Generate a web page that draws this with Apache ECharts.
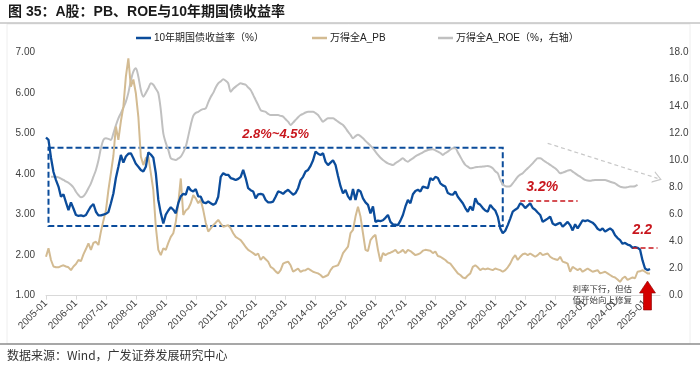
<!DOCTYPE html>
<html><head><meta charset="utf-8">
<script src="https://cdn.jsdelivr.net/npm/echarts/dist/echarts.min.js"></script>
<style>html,body{margin:0;padding:0;background:#fff}#c{width:700px;height:367px}</style>
</head><body><div id="c"></div>
<script>
// Monthly categories 2005-01 .. 2025-07 (axis runs a few months past the last point)
const startYear = 2005, monthCount = 247;
const categories = [];
for (let i = 0; i < monthCount; i++) {
  const y = startYear + Math.floor(i / 12), m = i % 12 + 1;
  categories.push(y + '-' + (m < 10 ? '0' + m : m));
}
const seriesNames = ['10年期国债收益率（%）', '万得全A_PB', '万得全A_ROE（%，右轴）'];

const yield10y = [4.90,4.84,4.40,4.05,3.85,3.69,3.44,3.50,3.30,3.11,3.30,3.15,
2.99,2.97,2.98,2.96,2.99,3.10,3.20,3.26,3.07,2.98,2.98,3.00,
3.02,3.06,3.28,3.52,3.90,4.18,4.47,4.28,4.43,4.50,4.51,4.39,
4.25,4.18,4.10,4.06,4.18,4.53,4.48,4.40,4.02,3.36,3.03,2.78,
3.00,3.10,3.18,3.12,3.03,3.28,3.45,3.51,3.49,3.69,3.60,3.57,
3.63,3.45,3.44,3.30,3.28,3.32,3.28,3.24,3.28,3.44,3.93,4.02,
3.98,3.98,3.90,3.88,3.85,3.88,3.93,4.10,3.90,3.65,3.60,3.57,
3.40,3.50,3.51,3.49,3.36,3.30,3.30,3.32,3.44,3.57,3.55,3.51,
3.57,3.61,3.55,3.49,3.53,3.65,3.85,3.93,4.06,4.10,4.20,4.34,
4.55,4.50,4.47,4.51,4.30,4.22,4.28,4.34,4.22,3.95,3.70,3.52,
3.61,3.45,3.36,3.63,3.36,3.61,3.57,3.40,3.30,3.24,3.03,3.20,
2.82,2.85,2.84,2.86,2.92,2.99,2.82,2.76,2.75,2.74,2.85,2.99,
3.20,3.36,3.28,3.50,3.58,3.61,3.57,3.69,3.67,3.65,3.90,3.85,
3.93,3.90,3.77,3.72,3.69,3.53,3.50,3.49,3.57,3.44,3.36,3.28,
3.16,3.07,3.20,3.10,3.40,3.28,3.24,3.16,3.10,3.07,3.24,3.16,
3.10,2.95,2.66,2.54,2.60,2.74,2.90,3.07,3.12,3.16,3.28,3.24,
3.16,3.22,3.28,3.16,3.12,3.05,2.99,2.82,2.86,2.90,2.95,2.78,
2.74,2.77,2.80,2.70,2.76,2.82,2.74,2.61,2.76,2.66,2.76,2.86,
2.84,2.86,2.83,2.80,2.74,2.65,2.61,2.66,2.58,2.62,2.66,2.61,
2.49,2.42,2.37,2.28,2.30,2.26,2.24,2.18,2.20,2.18,2.14,1.87,
1.67,1.63,1.66];

const pbValues = [1.96,2.17,1.88,1.72,1.70,1.70,1.73,1.75,1.72,1.70,1.63,1.72,
1.78,1.88,1.85,2.02,2.15,2.29,2.13,2.30,2.33,2.25,2.58,2.85,
3.10,3.60,4.02,4.45,5.17,4.84,5.30,5.66,6.40,6.85,6.15,6.33,
5.99,5.41,4.43,4.22,4.39,4.43,4.02,3.60,2.70,2.13,2.00,2.17,
2.13,2.30,2.45,2.54,2.82,3.28,3.89,2.99,3.10,3.15,3.28,3.48,
3.40,3.28,3.36,3.11,2.80,2.58,2.66,2.74,2.80,2.87,2.78,2.70,
2.72,2.74,2.66,2.54,2.45,2.41,2.37,2.29,2.20,2.13,2.09,2.05,
2.00,2.04,1.88,1.96,1.90,1.84,1.71,1.67,1.60,1.55,1.63,1.79,
1.82,1.84,1.75,1.59,1.63,1.67,1.59,1.62,1.63,1.67,1.63,1.59,
1.57,1.55,1.51,1.45,1.48,1.51,1.63,1.71,1.73,1.75,1.88,2.05,
2.13,2.21,2.54,2.62,2.95,3.19,2.95,2.54,2.13,2.10,2.37,2.45,
2.50,2.13,1.84,2.05,2.00,2.04,2.06,2.09,2.13,2.05,2.08,2.13,
2.05,2.13,2.10,2.05,2.00,2.02,2.05,2.11,2.13,2.12,2.11,2.05,
2.09,1.98,1.96,1.92,1.88,1.82,1.79,1.71,1.63,1.55,1.51,1.45,
1.43,1.50,1.55,1.71,1.75,1.70,1.63,1.67,1.65,1.67,1.65,1.63,
1.67,1.65,1.63,1.59,1.63,1.70,1.79,1.92,2.00,1.88,1.96,2.02,
2.04,2.00,2.04,2.00,1.96,2.00,2.06,2.00,2.02,2.04,1.96,1.92,
1.90,1.88,1.96,1.84,1.82,1.79,1.59,1.71,1.67,1.63,1.67,1.59,
1.63,1.67,1.63,1.59,1.61,1.63,1.55,1.57,1.59,1.55,1.51,1.47,
1.45,1.40,1.34,1.43,1.47,1.39,1.42,1.45,1.43,1.59,1.60,1.63,
1.59,1.55,1.55];

const roeValues = [null,null,8.80,8.80,8.80,8.75,8.65,8.56,8.45,8.35,8.20,8.00,
7.69,7.45,7.28,7.35,7.60,7.95,8.31,8.80,9.30,10.00,10.90,11.52,
11.64,11.60,11.52,12.01,12.60,13.12,13.50,13.90,14.35,15.00,15.90,16.57,
16.82,16.20,15.21,14.72,15.00,15.34,15.71,15.60,15.30,14.97,13.73,12.01,
11.30,10.78,10.16,10.08,10.04,10.15,10.28,10.60,11.02,11.80,12.63,13.30,
13.52,13.60,13.73,13.80,13.85,14.30,14.70,15.00,15.40,15.71,15.85,16.00,
15.90,15.71,15.09,15.30,15.46,15.60,15.71,15.65,15.60,15.40,15.21,14.85,
14.47,14.10,13.73,13.65,13.60,13.45,13.36,13.36,13.36,13.36,13.30,13.24,
13.05,12.87,12.63,12.80,13.00,13.20,13.36,13.45,13.55,13.60,13.60,13.60,
13.50,13.36,13.10,12.87,13.00,13.12,13.12,13.12,13.00,12.87,12.75,12.63,
12.40,12.13,11.90,11.64,11.80,11.90,11.80,11.64,11.45,11.27,11.10,10.90,
10.65,10.41,10.20,10.04,9.90,9.79,9.72,9.67,9.80,9.91,10.05,10.16,
10.00,9.91,10.05,10.16,10.30,10.41,10.50,10.60,10.70,10.78,10.82,10.83,
10.75,10.66,10.55,10.41,10.55,10.66,10.80,10.90,10.90,10.60,10.28,9.95,
9.67,9.55,9.42,9.45,9.50,9.52,9.54,9.55,9.57,9.60,9.55,9.42,
9.20,9.05,8.56,8.25,8.10,8.07,8.10,8.31,8.55,8.80,8.95,9.05,
9.25,9.42,9.60,9.79,10.00,10.16,10.16,10.05,9.91,9.80,9.67,9.55,
9.42,9.25,9.05,9.10,9.17,9.25,9.30,9.18,9.05,8.92,8.80,8.68,
8.56,8.52,8.50,8.53,8.56,8.56,8.56,8.56,8.56,8.50,8.43,8.37,
8.31,8.18,8.07,8.02,8.00,8.03,8.07,8.08,8.10,8.19];

// Annotation anchors (category index, value)
const boxRange = {from: 1, to: 183, top: 4.65, bottom: 2.72, label: '2.8%~4.5%'};
const line32 = {from: 190, to: 213, value: 3.33, label: '3.2%'};
const line22 = {from: 235, to: 245, value: 2.19, label: '2.2'};
const roeArrow = {from: 201, fromV: 11.27, to: 245, toV: 8.68};

const BLUE = '#0b4c9b', TAN = '#d3bb92', GRAY = '#c0c0c0', RED = '#c8161d';
const FONT = '"Liberation Sans", Arial, "Noto Sans CJK SC", sans-serif';
const yearTick = (i) => i % 12 === 0;

const chart = echarts.init(document.getElementById('c'), null, {renderer: 'canvas'});
const legendText = {fontSize: 10, color: '#222', fontFamily: FONT, padding: [0, 0, 0, -2]};
const legendBase = {top: 28, itemWidth: 15, itemHeight: 2.5, icon: 'rect', itemGap: 3, textStyle: legendText};
const option = {
  animation: false,
  textStyle: {fontFamily: FONT},
  grid: {left: 46, right: 40, top: 52.3, bottom: 71.3},
  legend: [
    Object.assign({data: [seriesNames[0]], left: 131}, legendBase),
    Object.assign({data: [seriesNames[1]], left: 307}, legendBase),
    Object.assign({data: [seriesNames[2]], left: 433}, legendBase)
  ],
  xAxis: {
    type: 'category', data: categories, boundaryGap: false,
    axisLine: {lineStyle: {color: '#d9d9d9', width: 1}},
    axisTick: {show: true, interval: yearTick, length: 4, lineStyle: {color: '#d9d9d9'}},
    axisLabel: {interval: yearTick, rotate: 45, fontSize: 10, color: '#404040', margin: 6},
    splitLine: {show: false}
  },
  yAxis: [
    {type: 'value', min: 1, max: 7, interval: 1, splitLine: {show: false}, axisLine: {show: false}, axisTick: {show: false},
     axisLabel: {formatter: v => v.toFixed(2), fontSize: 10, color: '#404040', margin: 11}},
    {type: 'value', min: 0, max: 18, interval: 2, splitLine: {show: false}, axisLine: {show: false}, axisTick: {show: false},
     axisLabel: {formatter: v => v.toFixed(1), fontSize: 10, color: '#404040', margin: 9}}
  ],
  series: [
    {
      name: seriesNames[2], type: 'line', yAxisIndex: 1, data: roeValues, showSymbol: false, smooth: 0.3,
      lineStyle: {color: GRAY, width: 2}, itemStyle: {color: GRAY}, z: 1,
      markLine: {
        silent: true, animation: false,
        symbol: ['none', 'path://M0,12 L6,0 L12,12 L10.6,12 L6,2.8 L1.4,12 Z'], symbolSize: [12, 9],
        lineStyle: {color: '#c8c8c8', type: [4, 3], width: 1.2},
        label: {show: false},
        data: [[{xAxis: categories[roeArrow.from], yAxis: roeArrow.fromV}, {xAxis: categories[roeArrow.to], yAxis: roeArrow.toV}]]
      }
    },
    {
      name: seriesNames[1], type: 'line', yAxisIndex: 0, data: pbValues, showSymbol: false,
      lineStyle: {color: TAN, width: 2}, itemStyle: {color: TAN}, z: 2
    },
    {
      name: seriesNames[0], type: 'line', yAxisIndex: 0, data: yield10y, showSymbol: false,
      lineStyle: {color: BLUE, width: 2.3}, itemStyle: {color: BLUE}, z: 3,
      markArea: {
        silent: true,
        itemStyle: {color: 'rgba(0,0,0,0)', borderColor: BLUE, borderWidth: 2, borderType: [6, 3]},
        label: {show: true, position: 'top', distance: 6, formatter: boxRange.label, color: RED,
                fontSize: 13, fontWeight: 'bold', fontStyle: 'italic', fontFamily: FONT},
        data: [[{xAxis: categories[boxRange.from], yAxis: boxRange.top}, {xAxis: categories[boxRange.to], yAxis: boxRange.bottom}]]
      },
      markLine: {
        silent: true, symbol: ['none', 'none'],
        lineStyle: {color: RED, type: [5, 3], width: 1.6},
        label: {show: true, position: 'insideStartTop', formatter: '{b}', color: RED, fontSize: 14, fontWeight: 'bold', fontFamily: FONT, distance: 5},
        data: [
          [{name: line32.label, xAxis: categories[line32.from], yAxis: line32.value, label: {fontStyle: 'italic', distance: [6, 7]}},
           {xAxis: categories[line32.to], yAxis: line32.value}],
          [{name: line22.label, xAxis: categories[line22.from], yAxis: line22.value, label: {fontStyle: 'italic', distance: [0, 10]}},
           {xAxis: categories[line22.to], yAxis: line22.value}]
        ]
      }
    }
  ],
  graphic: [
    {type: 'rect', shape: {x: 7, y: 24, width: 683, height: 320}, style: {fill: 'none', stroke: '#eeeeee', lineWidth: 1}, silent: true, z: -1},
    {type: 'text', left: 8, top: 5, style: {text: '图 35：A股：PB、ROE与10年期国债收益率', font: 'bold 14px "Liberation Sans", Arial, "Noto Sans CJK SC", sans-serif', fill: '#1a1a1a'}},
    {type: 'line', shape: {x1: 0, y1: 23, x2: 700, y2: 23}, style: {stroke: '#a6a6a6', lineWidth: 1}},
    {type: 'line', shape: {x1: 0, y1: 344, x2: 700, y2: 344}, style: {stroke: '#8c8c8c', lineWidth: 1.5}},
    {type: 'text', left: 7, top: 349, style: {text: '数据来源：Wind，广发证券发展研究中心', font: '12px "Noto Sans CJK SC", sans-serif', fill: '#333'}},
    {type: 'text', x: 632, y: 284, style: {text: '利率下行，但估\n值开始向上修复', font: '8.5px "Noto Sans CJK SC", sans-serif', fill: '#404040', align: 'right', lineHeight: 10.5}},
    {type: 'polygon', shape: {points: [[647.5, 281], [655.5, 293], [651.5, 293], [651.5, 310], [643.5, 310], [643.5, 293], [639.5, 293]]},
     style: {fill: '#d40000', stroke: '#8b0000', lineWidth: 0.6}, z: 10}
  ]
};
chart.setOption(option);
</script>
</body></html>
